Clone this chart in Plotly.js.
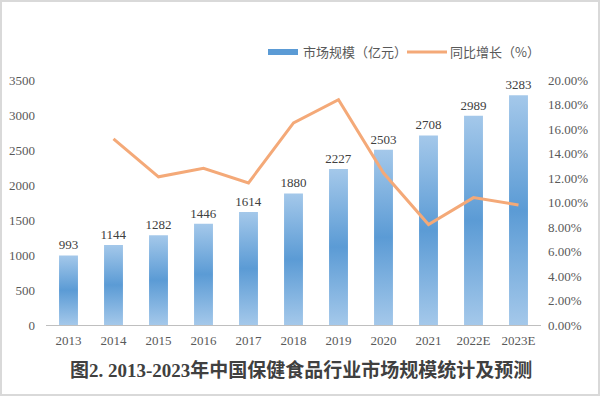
<!DOCTYPE html>
<html><head><meta charset="utf-8">
<script src="https://cdn.plot.ly/plotly-3.0.1.min.js"></script>
<style>
html,body{margin:0;padding:0;background:#fff;}
#wrap{position:relative;width:600px;height:396px;box-sizing:border-box;border:2px solid #d9d9d9;}
#chart{position:absolute;left:-2px;top:-2px;width:600px;height:396px;}
</style></head>
<body><div id="wrap"><div id="chart"></div></div>
<script>
const years = ['2013','2014','2015','2016','2017','2018','2019','2020','2021','2022E','2023E'];
const marketSize = [993,1144,1282,1446,1614,1880,2227,2503,2708,2989,3283];
const growthYears = ['2014','2015','2016','2017','2018','2019','2020','2021','2022E','2023E'];
const growth = [0.152,0.121,0.128,0.116,0.165,0.184,0.124,0.082,0.104,0.098];
const leftTicks = [0,500,1000,1500,2000,2500,3000,3500];
const rightTicks = [0,0.02,0.04,0.06,0.08,0.10,0.12,0.14,0.16,0.18,0.20];

const serif = 'Liberation Serif, Times New Roman, Noto Sans CJK SC, serif';
const cjk = 'Noto Sans CJK SC, sans-serif';

const data = [
  {type:'bar', x:years, y:marketSize, name:'市场规模（亿元）',
   marker:{color:'#7eb0e0'}, width:0.42,
   text:marketSize.map(String), textposition:'outside', cliponaxis:false, constraintext:'none',
   textfont:{family:serif,size:13,color:'#404040'}},
  {type:'scatter', mode:'lines', x:growthYears, y:growth, yaxis:'y2', name:'同比增长（%）',
   line:{color:'#f4a978', width:3}}
];
const layout = {
  width:600, height:396, margin:{l:46,r:59,t:80,b:71},
  paper_bgcolor:'rgba(0,0,0,0)', plot_bgcolor:'rgba(0,0,0,0)',
  showlegend:true,
  legend:{orientation:'h', x:(263-46)/495, xanchor:'left', y:1.114, yanchor:'middle',
    font:{family:cjk,size:13,color:'#595959'}, traceorder:'normal', itemwidth:30,
    entrywidth:102, entrywidthmode:'pixels'},
  xaxis:{type:'category', showline:true, linecolor:'#bfbfbf', linewidth:1, ticks:'',
    tickfont:{family:serif,size:13,color:'#595959'}, showgrid:false, ticklabelstandoff:3},
  yaxis:{range:[0,3500], tickvals:leftTicks, showgrid:false, zeroline:false, showline:false,
    tickfont:{family:serif,size:13,color:'#595959'}, ticks:'', ticklabelstandoff:10},
  yaxis2:{overlaying:'y', side:'right', range:[0,0.20], tickvals:rightTicks, tickformat:'.2%',
    showgrid:false, zeroline:false, showline:false, ticks:'', ticklabelstandoff:6,
    tickfont:{family:serif,size:13,color:'#595959'}},
  annotations:[{text:'<b>图2. 2013-2023年中国保健食品行业市场规模统计及预测</b>', xref:'paper', yref:'paper',
    x:0.5, y:-0.184, xanchor:'center', yanchor:'middle', showarrow:false, xshift:7,
    font:{family:'Liberation Serif, Noto Sans CJK SC, serif', size:19, color:'#404040'}}]
};
Plotly.newPlot('chart', data, layout, {staticPlot:true}).then(gd=>{
  const svg = gd.querySelector('svg.main-svg');
  const ns='http://www.w3.org/2000/svg';
  let defs = svg.querySelector('defs');
  const lg = document.createElementNS(ns,'linearGradient');
  lg.setAttribute('id','barGrad'); lg.setAttribute('x1','0'); lg.setAttribute('y1','0');
  lg.setAttribute('x2','0'); lg.setAttribute('y2','1');
  [['0','#a4c8ea'],['0.5','#5b9bd5'],['1','#a4c8ea']].forEach(([o,c])=>{
    const s=document.createElementNS(ns,'stop'); s.setAttribute('offset',o); s.setAttribute('stop-color',c); lg.appendChild(s);
  });
  defs.appendChild(lg);
  gd.querySelectorAll('.barlayer .point path').forEach(p=>{ p.style.fill='url(#barGrad)'; });
  const legTraces = gd.querySelectorAll('.legend .traces');
  if (legTraces[0]) {
    const p = legTraces[0].querySelector('.legendpoints path');
    if (p) { p.setAttribute('d','M-15,-3H15V3H-15Z'); p.style.fill='#5b9bd5'; }
  }
  if (legTraces[1]) {
    const p = legTraces[1].querySelector('.legendlines path');
    if (p) p.setAttribute('d','M-3,0h40');
  }
});
</script></body></html>
